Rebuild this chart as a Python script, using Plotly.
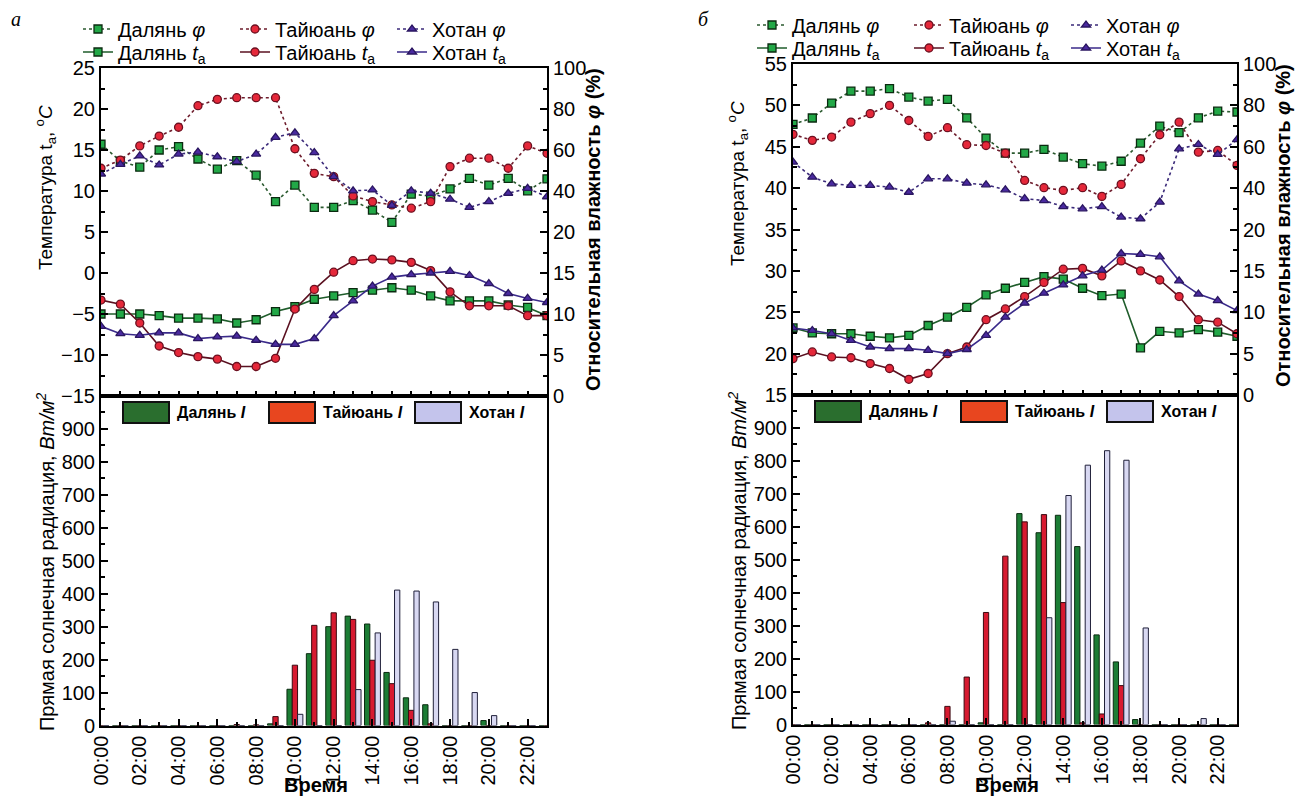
import plotly.graph_objects as go

# ---------------- data ----------------
hours = list(range(24))
tick_hours = list(range(0, 24, 2))
tick_labels = [f"{h:02d}:00" for h in tick_hours]

# panel a: relative humidity, %
dalian_phi_a = [62.8, 54.6, 51.6, 60.0, 61.6, 55.6, 50.7, 54.8, 47.7, 34.8, 42.9, 32.0,
                32.0, 35.3, 30.7, 24.7, 38.5, 37.5, 41.0, 46.2, 42.9, 46.2, 40.1, 45.9]
taiyuan_phi_a = [51.1, 55.1, 62.0, 66.8, 71.1, 81.6, 84.7, 85.5, 85.5, 85.5, 60.6, 48.6,
                 47.0, 37.6, 34.8, 33.2, 31.6, 34.8, 51.9, 56.0, 56.0, 51.1, 62.0, 58.4]
hotan_phi_a = [48.3, 53.0, 57.1, 52.7, 58.0, 59.0, 56.7, 54.3, 58.0, 66.2, 68.4, 58.7,
               47.0, 40.1, 40.5, 33.0, 40.1, 38.9, 36.0, 32.0, 34.8, 38.9, 41.3, 37.2]
# panel a: air temperature, deg C
dalian_ta_a = [-5.0, -5.0, -5.0, -5.2, -5.5, -5.5, -5.6, -6.1, -5.7, -4.7, -4.1, -3.2,
               -2.8, -2.4, -2.1, -1.8, -2.1, -2.8, -3.4, -3.4, -3.4, -3.9, -4.2, -5.2]
taiyuan_ta_a = [-3.3, -3.8, -6.1, -8.9, -9.7, -10.2, -10.5, -11.4, -11.4, -10.4, -4.4, -2.0,
                0.1, 1.5, 1.7, 1.6, 1.3, 0.3, -2.3, -4.0, -4.0, -4.0, -5.2, -5.2]
hotan_ta_a = [-6.5, -7.4, -7.6, -7.3, -7.3, -8.0, -7.8, -7.7, -8.2, -8.7, -8.7, -8.0,
              -5.2, -3.4, -1.6, -0.5, -0.2, 0.0, 0.2, -0.3, -1.3, -2.5, -3.1, -3.6]
# panel a: direct solar radiation, W/m2
dalian_I_a = [0, 0, 0, 0, 0, 0, 0, 0, 0, 5, 110, 218, 300, 332, 308, 161, 84, 63, 0, 0, 15, 0, 0, 0]
taiyuan_I_a = [0, 0, 0, 0, 0, 0, 0, 3, 2, 27, 183, 304, 342, 322, 198, 127, 46, 5, 0, 0, 0, 0, 0, 0]
hotan_I_a = [0, 0, 0, 0, 0, 0, 0, 0, 0, 0, 34, 0, 0, 109, 281, 411, 408, 375, 231, 100, 30, 0, 0, 0]

# panel b: relative humidity, %
dalian_phi_b = [70.8, 73.9, 81.1, 86.9, 86.9, 88.1, 84.0, 82.1, 82.9, 74.0, 64.2, 56.9,
                56.9, 58.7, 55.0, 51.8, 50.6, 53.0, 61.8, 70.0, 66.8, 74.0, 77.2, 76.8]
taiyuan_phi_b = [66.0, 63.1, 64.7, 71.9, 76.0, 80.0, 72.7, 65.0, 69.2, 61.0, 60.6, 56.9,
                 43.7, 40.2, 38.9, 40.2, 36.0, 41.8, 54.2, 65.8, 71.9, 57.4, 58.2, 51.0]
hotan_phi_b = [52.6, 45.3, 42.1, 41.3, 41.3, 40.5, 38.0, 44.5, 44.5, 42.4, 41.6, 39.2,
               34.9, 34.0, 31.1, 30.0, 31.1, 26.0, 25.2, 33.2, 59.0, 61.1, 56.3, 63.4]
# panel b: air temperature, deg C
dalian_ta_b = [23.1, 22.5, 22.4, 22.4, 22.1, 21.9, 22.2, 23.4, 24.4, 25.6, 27.1, 27.9,
               28.6, 29.3, 29.0, 27.9, 27.0, 27.2, 20.7, 22.7, 22.5, 22.9, 22.6, 22.1]
taiyuan_ta_b = [19.4, 20.2, 19.6, 19.5, 18.8, 18.2, 16.9, 17.6, 20.0, 20.8, 24.1, 25.4,
                26.9, 28.6, 30.2, 30.3, 29.4, 31.2, 30.0, 28.9, 26.9, 24.1, 23.8, 22.4]
hotan_ta_b = [23.1, 22.8, 22.4, 21.6, 20.8, 20.6, 20.6, 20.4, 20.0, 20.5, 22.2, 24.4,
              26.1, 27.3, 28.3, 29.4, 30.1, 32.1, 32.0, 31.7, 28.8, 27.2, 26.4, 25.2]
# panel b: direct solar radiation, W/m2
dalian_I_b = [0, 0, 0, 0, 0, 0, 0, 0, 0, 0, 5, 0, 640, 582, 635, 540, 272, 190, 15, 0, 0, 0, 0, 0]
taiyuan_I_b = [0, 0, 0, 0, 0, 0, 0, 5, 55, 144, 340, 511, 615, 637, 370, 5, 32, 118, 0, 0, 0, 0, 0, 0]
hotan_I_b = [0, 0, 0, 0, 0, 0, 0, 0, 10, 0, 0, 0, 0, 324, 695, 787, 831, 802, 293, 0, 0, 18, 0, 0]

# right axis: upper part 20..100 %, lower part labelled 0..20
rh_tickvals = [-60, -40, -20, 0, 20, 40, 60, 80, 100]
rh_ticktext = ["0", "5", "10", "15", "20", "40", "60", "80", "100"]

# ---------------- styling ----------------
W, H = 1305, 796
FONT = "Liberation Sans, Arial, sans-serif"
SERIF = "Liberation Serif, DejaVu Serif, serif"


def px_x(p):
    return p / W


def px_y(p):
    return 1 - p / H


cities = {
    "Далянь": dict(marker="square", fill="#22a847", edge="#0b2a10",
                   dash_line="#2b5a2f", solid_line="#1f5d2b",
                   bar="#1c7d35", bar_edge="#0a2a10", swatch="#2a6e2e"),
    "Тайюань": dict(marker="circle", fill="#e5283a", edge="#6b1020",
                    dash_line="#6e1c2c", solid_line="#5a1020",
                    bar="#d71a30", bar_edge="#3a0a10", swatch="#e8461f"),
    "Хотан": dict(marker="triangle-up", fill="#4a2aa0", edge="#2a1660",
                  dash_line="#3b2a7a", solid_line="#3a2a8a",
                  bar="#d8d8f2", bar_edge="#20203a", swatch="#c4c4ec"),
}

panels = [
    dict(phi=[dalian_phi_a, taiyuan_phi_a, hotan_phi_a],
         ta=[dalian_ta_a, taiyuan_ta_a, hotan_ta_a],
         I=[dalian_I_a, taiyuan_I_a, hotan_I_a],
         trange=[-15, 25], left=101, right=547, top=68, mid=396, bottom=725.5,
         leg_x=78, leg_y1=29, leg_y2=52),
    dict(phi=[dalian_phi_b, taiyuan_phi_b, hotan_phi_b],
         ta=[dalian_ta_b, taiyuan_ta_b, hotan_ta_b],
         I=[dalian_I_b, taiyuan_I_b, hotan_I_b],
         trange=[15, 55], left=793, right=1237, top=64, mid=395, bottom=724.5,
         leg_x=752, leg_y1=25, leg_y2=48),
]

fig = go.Figure()
layout = dict(
    width=W, height=H,
    margin=dict(l=0, r=0, t=0, b=0),
    paper_bgcolor="white", plot_bgcolor="white",
    barmode="group", bargap=0.18, bargroupgap=0.0,
    font=dict(family=FONT, size=18, color="black"),
)
shapes = []
annotations = []

axis_common = dict(showline=True, linecolor="black", linewidth=2,
                   showgrid=False, zeroline=False, automargin=False,
                   ticks="inside", tickcolor="black", tickwidth=1.5,
                   tickfont=dict(family=FONT, size=20, color="black"))
minor_style = dict(ticks="inside", ticklen=4, tickcolor="black", tickwidth=1.5)


def note(x, y, text, size, angle=0, family=FONT, xanchor="center"):
    annotations.append(dict(xref="paper", yref="paper", x=px_x(x), y=px_y(y),
                            xanchor=xanchor, yanchor="middle", textangle=angle,
                            showarrow=False, text=text,
                            font=dict(family=family, size=size, color="black")))


for pi, p in enumerate(panels):
    n = pi * 3
    xt, xb = f"x{n + 1 if n else ''}", f"x{n + 2}"
    yt, yr, yb = f"y{n + 1 if n else ''}", f"y{n + 2}", f"y{n + 3}"
    key = lambda a: a[0] + "axis" + a[1:]
    xdom = [px_x(p["left"]), px_x(p["right"])]
    top_dom = [px_y(p["mid"]), px_y(p["top"])]
    bot_dom = [px_y(p["bottom"]), px_y(p["mid"])]
    leg1 = f"legend{2 * pi + 1 if pi else ''}"
    leg2 = f"legend{2 * pi + 2}"

    for ci, (city, st) in enumerate(cities.items()):
        # relative humidity (dashed, right axis)
        fig.add_trace(go.Scatter(
            x=hours, y=p["phi"][ci], xaxis=xt, yaxis=yr, mode="lines+markers",
            name=f"{city} <i>φ</i>", legend=leg1,
            line=dict(color=st["dash_line"], width=1.6, dash="3px,3px"),
            marker=dict(symbol=st["marker"], size=8, color=st["fill"],
                        line=dict(color=st["edge"], width=1.3))))
    for ci, (city, st) in enumerate(cities.items()):
        # air temperature (solid, left axis)
        fig.add_trace(go.Scatter(
            x=hours, y=p["ta"][ci], xaxis=xt, yaxis=yt, mode="lines+markers",
            name=f"{city} <i>t</i><sub>a</sub>", legend=leg2,
            line=dict(color=st["solid_line"], width=1.6),
            marker=dict(symbol=st["marker"], size=8, color=st["fill"],
                        line=dict(color=st["edge"], width=1.3))))
    for ci, (city, st) in enumerate(cities.items()):
        # direct solar radiation bars
        fig.add_trace(go.Bar(
            x=hours, y=p["I"][ci], xaxis=xb, yaxis=yb, name=f"{city} I",
            showlegend=False,
            marker=dict(color=st["bar"], line=dict(color=st["bar_edge"], width=1))))

    # axes
    layout[key(xt)] = dict(axis_common, domain=xdom, range=[0, 23], anchor=yt,
                           showticklabels=False, tickvals=hours, ticklen=5, mirror=True)
    layout[key(xb)] = dict(axis_common, domain=xdom, range=[0, 23], anchor=yb,
                           tickvals=tick_hours, ticktext=tick_labels, tickangle=-90,
                           ticklen=7, mirror=True,
                           minor=dict(minor_style, tickvals=[h for h in hours if h % 2]))
    layout[key(yt)] = dict(axis_common, domain=top_dom, range=p["trange"], anchor=xt,
                           dtick=5, ticklen=7, minor=dict(minor_style, dtick=2.5))
    layout[key(yr)] = dict(axis_common, domain=top_dom, range=[-60, 100], anchor=xt,
                           overlaying=yt, side="right", tickvals=rh_tickvals,
                           ticktext=rh_ticktext, ticklen=7,
                           minor=dict(minor_style,
                                      tickvals=[v + 10 for v in rh_tickvals[:-1]]))
    layout[key(yb)] = dict(axis_common, domain=bot_dom, range=[0, 1000], anchor=xb,
                           tickvals=list(range(0, 1000, 100)), ticklen=7, mirror=True,
                           minor=dict(minor_style, tickvals=list(range(50, 1000, 100))))

    # line legends: humidity row and temperature row
    for leg, ly in ((leg1, p["leg_y1"]), (leg2, p["leg_y2"])):
        layout[leg] = dict(orientation="h", x=px_x(p["leg_x"]), y=px_y(ly),
                           xanchor="left", yanchor="middle", xref="paper", yref="paper",
                           entrywidth=112, entrywidthmode="pixels",
                           bgcolor="rgba(0,0,0,0)", borderwidth=0,
                           font=dict(family=FONT, size=20, color="black"),
                           tracegroupgap=0, itemwidth=30)

    # bar legend swatches
    sw_y0, sw_y1 = p["mid"] + 6, p["mid"] + 27
    x0 = p["left"] + 22
    for ci, (city, st) in enumerate(cities.items()):
        sx = x0 + ci * 146
        shapes.append(dict(type="rect", xref="paper", yref="paper",
                           x0=px_x(sx), x1=px_x(sx + 46), y0=px_y(sw_y1), y1=px_y(sw_y0),
                           fillcolor=st["swatch"], line=dict(color="#111111", width=2)))
        note(sx + 52, (sw_y0 + sw_y1) / 2, f"<b>{city} <i>I</i></b>", 16, xanchor="left")

    # axis titles
    lx = p["left"] - 56
    note(lx, p["top"] + 120, "Температура t<sub>a</sub>, <sup>o</sup><i>C</i>", 19, -90)
    note(lx, p["mid"] + 166, "Прямая солнечная радиация, <i>Вт/м<sup>2</sup></i>", 20, -90)
    note(p["right"] + 46, p["top"] + 162,
         "<b>Относительная влажность <i>φ</i> (%)</b>", 20, -90)
    note((p["left"] + p["right"]) / 2 - 8, 785, "<b>Время</b>", 20)

# panel letters
note(16, 19, "<i>а</i>", 20, family=SERIF)
note(704, 19, "<i>б</i>", 20, family=SERIF)

layout["shapes"] = shapes
layout["annotations"] = annotations
fig.update_layout(**layout)
fig.write_html("out.html")
